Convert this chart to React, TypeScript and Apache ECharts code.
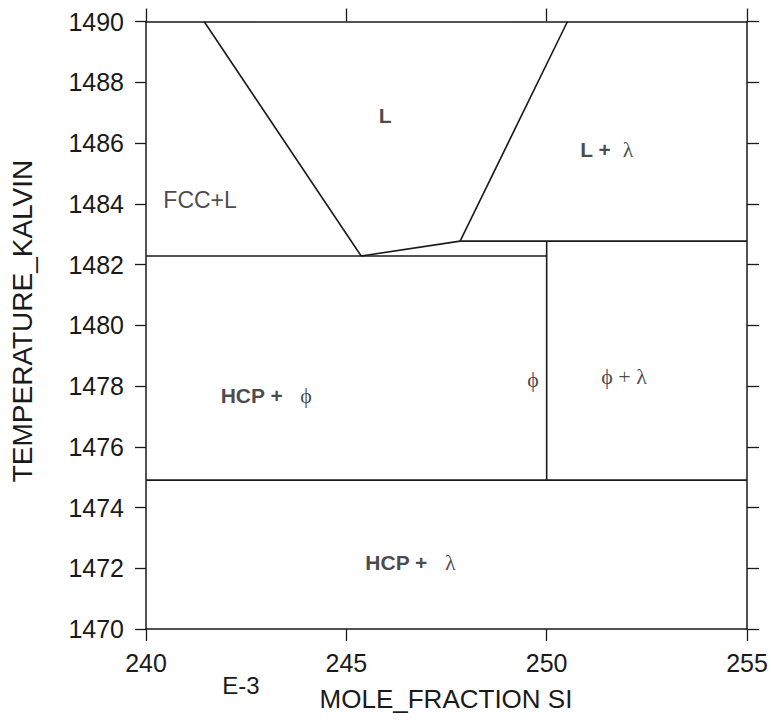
import React, { useEffect, useRef } from "react";
import * as echarts from "echarts";

// Axis ranges
const X_MIN = 240;
const X_MAX = 255;
const X_STEP = 5;
const Y_MIN = 1470;
const Y_MAX = 1490;
const Y_STEP = 2;

// Phase boundaries (mole fraction Si x1000, temperature K)
const liquidusLeft = [[241.45, 1490], [245.37, 1482.28]];
const liquidusKink = [[245.37, 1482.28], [247.84, 1482.77]];
const liquidusRight = [[247.84, 1482.77], [250.52, 1490]];
const eutecticLine = [[240, 1482.28], [250, 1482.28]];
const peritecticLine = [[247.84, 1482.77], [255, 1482.77]];
const phiBoundary = [[250, 1482.77], [250, 1474.9]];
const eutectoidLine = [[240, 1474.9], [255, 1474.9]];

// Region labels
const labelX = [241.35, 245.97, 251.5, 243.0, 249.66, 251.93, 246.6];
const labelY = [1484.12, 1486.89, 1485.77, 1477.7, 1478.2, 1478.3, 1472.2];
const labelText = [
  "{r|FCC+L}",
  "{b|L}",
  "{b|L +  }{g|λ}",
  "{b|HCP +   }{g|ϕ}",
  "{g|ϕ}",
  "{g|ϕ + λ}",
  "{b|HCP +   }{g|λ}",
];

const SANS = "'Liberation Sans', Arial, sans-serif";
const SERIF = "'Liberation Serif', 'DejaVu Serif', 'Times New Roman', serif";
const INK = "#1a1a1a";

export default function App() {
  const ref = useRef<HTMLDivElement>(null);

  useEffect(() => {
    if (!ref.current) return;
    const chart = echarts.init(ref.current, undefined, { renderer: "svg" });

    const axisLine = { show: true, onZero: false, lineStyle: { color: INK, width: 1.5 } };
    const tick = (len: number) => ({
      show: true,
      inside: false,
      length: len,
      lineStyle: { color: INK, width: 1.3 },
    });

    const boundaries = [
      liquidusLeft,
      liquidusKink,
      liquidusRight,
      eutecticLine,
      peritecticLine,
      phiBoundary,
      eutectoidLine,
    ];

    const option: any = {
      animation: false,
      backgroundColor: "#ffffff",
      color: [INK],
      grid: { left: 146, right: 24, top: 21.5, bottom: 94, containLabel: false },
      xAxis: [
        {
          type: "value",
          position: "bottom",
          min: X_MIN,
          max: X_MAX,
          interval: X_STEP,
          axisLine,
          axisTick: tick(12),
          splitLine: { show: false },
          axisLabel: {
            show: true,
            margin: 21,
            color: INK,
            fontSize: 25,
            fontFamily: SANS,
            formatter: (v: number) => String(v),
          },
        },
        {
          type: "value",
          position: "top",
          min: X_MIN,
          max: X_MAX,
          interval: X_STEP,
          axisLine,
          axisTick: tick(13),
          splitLine: { show: false },
          axisLabel: { show: false },
        },
      ],
      yAxis: [
        {
          type: "value",
          position: "left",
          min: Y_MIN,
          max: Y_MAX,
          interval: Y_STEP,
          axisLine,
          axisTick: tick(11),
          splitLine: { show: false },
          axisLabel: {
            show: true,
            margin: 22,
            color: INK,
            fontSize: 25,
            fontFamily: SANS,
            formatter: (v: number) => String(v),
          },
        },
        {
          type: "value",
          position: "right",
          min: Y_MIN,
          max: Y_MAX,
          interval: Y_STEP,
          axisLine,
          axisTick: tick(12),
          splitLine: { show: false },
          axisLabel: { show: false },
        },
      ],
      series: [
        ...boundaries.map((seg) => ({
          type: "line",
          data: seg,
          xAxisIndex: 0,
          yAxisIndex: 0,
          symbol: "none",
          silent: true,
          lineStyle: { color: INK, width: 1.6 },
          z: 3,
        })),
        {
          type: "scatter",
          xAxisIndex: 0,
          yAxisIndex: 0,
          symbolSize: 0,
          itemStyle: { color: INK },
          silent: true,
          data: labelX.map((x, i) => ({
            value: [x, labelY[i]],
            label: { formatter: labelText[i] },
          })),
          label: {
            show: true,
            position: "inside",
            align: "center",
            verticalAlign: "middle",
            color: INK,
            textBorderWidth: 0,
            textBorderColor: "transparent",
            rich: {
              r: { fontFamily: SANS, fontSize: 23, color: INK, textBorderWidth: 0 },
              b: { fontFamily: SANS, fontSize: 21, fontWeight: "bold", color: INK, textBorderWidth: 0 },
              g: { fontFamily: SERIF, fontSize: 22, color: INK, textBorderWidth: 0 },
            },
          },
          z: 5,
        },
      ],
      graphic: [
        {
          type: "text",
          x: 446,
          y: 699,
          style: {
            text: "MOLE_FRACTION SI",
            fontFamily: SANS,
            fontSize: 26,
            fill: INK,
            align: "center",
            verticalAlign: "middle",
          },
        },
        {
          type: "text",
          x: 241,
          y: 685,
          style: {
            text: "E-3",
            fontFamily: SANS,
            fontSize: 24,
            fill: INK,
            align: "center",
            verticalAlign: "middle",
          },
        },
        {
          type: "text",
          x: 22,
          y: 321,
          rotation: Math.PI / 2,
          style: {
            text: "TEMPERATURE_KALVIN",
            fontFamily: SANS,
            fontSize: 28,
            fill: INK,
            align: "center",
            verticalAlign: "middle",
          },
        },
      ],
    };

    chart.setOption(option);
    return () => chart.dispose();
  }, []);

  return (
    <div
      ref={ref}
      style={{ position: "fixed", left: 0, top: 0, width: 771, height: 723, background: "#fff" }}
    />
  );
}
